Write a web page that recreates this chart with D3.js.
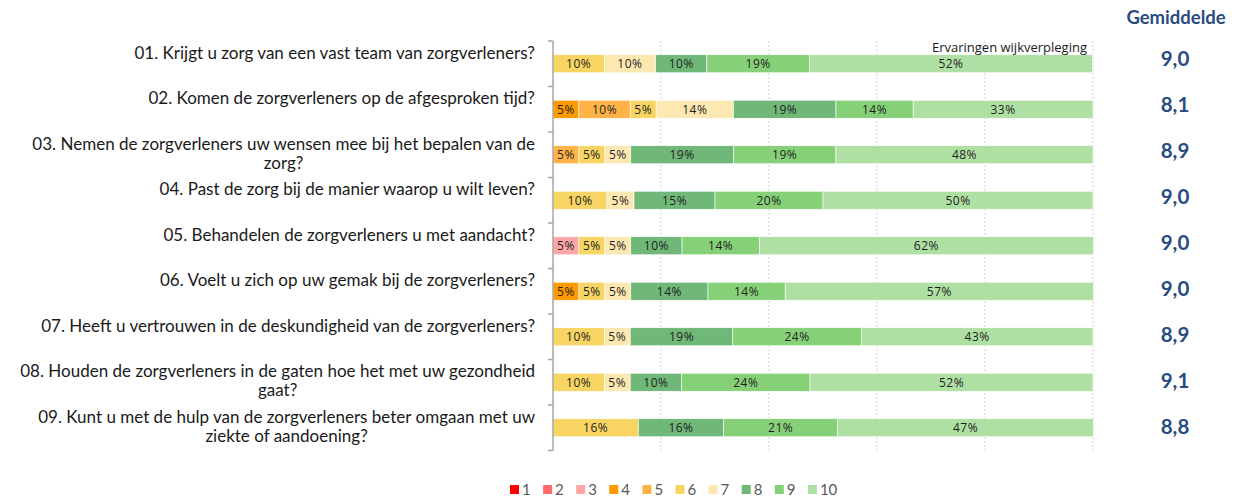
<!DOCTYPE html>
<html>
<head>
<meta charset="utf-8">
<script src="https://cdn.jsdelivr.net/npm/d3@7"></script>
<style>
  html, body { margin: 0; padding: 0; background: #fff; }
  svg { display: block; }
</style>
</head>
<body>
<svg id="chart" width="1238" height="499"></svg>
<script>
// ---------------- data ----------------
const questions = [
  "01. Krijgt u zorg van een vast team van zorgverleners?",
  "02. Komen de zorgverleners op de afgesproken tijd?",
  "03. Nemen de zorgverleners uw wensen mee bij het bepalen van de\nzorg?",
  "04. Past de zorg bij de manier waarop u wilt leven?",
  "05. Behandelen de zorgverleners u met aandacht?",
  "06. Voelt u zich op uw gemak bij de zorgverleners?",
  "07. Heeft u vertrouwen in de deskundigheid van de zorgverleners?",
  "08. Houden de zorgverleners in de gaten hoe het met uw gezondheid\ngaat?",
  "09. Kunt u met de hulp van de zorgverleners beter omgaan met uw\nziekte of aandoening?"
];
const scores = ["1", "2", "3", "4", "5", "6", "7", "8", "9", "10"];
const pct1  = [0, 0, 0, 0, 0, 0, 0, 0, 0];
const pct2  = [0, 0, 0, 0, 0, 0, 0, 0, 0];
const pct3  = [0, 0, 0, 0, 4.8, 0, 0, 0, 0];
const pct4  = [0, 4.8, 0, 0, 0, 4.8, 0, 0, 0];
const pct5  = [0, 9.5, 4.8, 0, 0, 0, 0, 0, 0];
const pct6  = [9.5, 4.8, 4.8, 10, 4.8, 4.8, 9.5, 9.5, 15.8];
const pct7  = [9.5, 14.3, 4.8, 5, 4.8, 4.8, 4.8, 4.8, 0];
const pct8  = [9.5, 19.0, 19.0, 15, 9.5, 14.3, 19.0, 9.5, 15.8];
const pct9  = [19.0, 14.3, 19.0, 20, 14.3, 14.3, 23.8, 23.8, 21.1];
const pct10 = [52.4, 33.3, 47.6, 50, 61.9, 57.1, 42.9, 52.4, 47.4];
const averages = ["9,0", "8,1", "8,9", "9,0", "9,0", "9,0", "8,9", "9,1", "8,8"];
const averageTitle = "Gemiddelde";
const chartTitle = "Ervaringen wijkverpleging";
const xTicks = [0, 20, 40, 60, 80, 100];

// ---------------- styles ----------------
const colors = ["#FF0000", "#FF6B6B", "#FFA7A7", "#FF9A00", "#FFB347", "#F8D562",
                "#FDE8B2", "#70B878", "#86D178", "#AFE0A3"];
const labelFont = "Lato, 'Open Sans', sans-serif";
const pctFont = "'Open Sans', sans-serif";
const numFont = "Lato, 'Open Sans', sans-serif";
const navy = "#284C80";

const seriesArrays = [pct1, pct2, pct3, pct4, pct5, pct6, pct7, pct8, pct9, pct10];
const table = questions.map((q, i) => {
  const row = { q };
  scores.forEach((s, j) => { row[s] = seriesArrays[j][i]; });
  return row;
});

const svg = d3.select("#chart");
const x = d3.scaleLinear().domain([0, 100]).range([553, 1093]);
const y = d3.scaleBand().domain(questions).range([41, 450.5])
  .paddingInner(0.604).paddingOuter(0.302);
const color = d3.scaleOrdinal().domain(scores).range(colors);
const avgY = d3.scalePoint().domain(questions).range([59, 427]);

// grid
const grid = svg.append("g");
grid.selectAll("line").data(xTicks.slice(1)).join("line")
  .attr("x1", d => x(d)).attr("x2", d => x(d))
  .attr("y1", 41).attr("y2", 450.5)
  .attr("stroke", "#D0D0D0").attr("stroke-width", 1)
  .attr("stroke-dasharray", "2,2");

// bars
const stack = d3.stack().keys(scores)(table);
const layers = svg.append("g").selectAll("g").data(stack).join("g")
  .attr("fill", d => color(d.key));
layers.selectAll("rect").data(d => d.filter(p => p[1] - p[0] > 0)).join("rect")
  .attr("x", d => x(d[0]))
  .attr("y", d => y(d.data.q))
  .attr("width", d => x(d[1]) - x(d[0]))
  .attr("height", y.bandwidth())
  .attr("stroke", "#ffffff").attr("stroke-width", 0.6);

layers.selectAll("text").data(d => d.filter(p => p[1] - p[0] > 0)).join("text")
  .attr("x", d => (x(d[0]) + x(d[1])) / 2)
  .attr("y", d => y(d.data.q) + y.bandwidth() / 2 + 4.5)
  .attr("text-anchor", "middle")
  .attr("font-family", pctFont)
  .attr("font-size", 12)
  .attr("letter-spacing", 0.5)
  .attr("fill", "#1f1f1f")
  .text(d => Math.round(d[1] - d[0]) + "%");

// y axis (left line with ticks at band boundaries)
const axisG = svg.append("g").attr("transform", "translate(553,0)");
axisG.call(d3.axisLeft(y).tickSize(0).tickFormat(""));
axisG.select(".domain").remove();
axisG.append("line").attr("x1", 0).attr("x2", 0).attr("y1", 41).attr("y2", 450.5)
  .attr("stroke", "#A6A6A6").attr("stroke-width", 1.5);
const bounds = questions.map(q => y(q) - (y.step() - y.bandwidth()) / 2);
bounds.push(450.5);
axisG.selectAll(".btick").data(bounds).join("line").attr("class", "btick")
  .attr("x1", -5).attr("x2", 0).attr("y1", d => d).attr("y2", d => d)
  .attr("stroke", "#A6A6A6").attr("stroke-width", 1.5);

// question labels
const labels = svg.append("g").selectAll("text").data(questions).join("text")
  .attr("font-family", labelFont)
  .attr("font-size", 14)
  .attr("fill", "#1a1a1a");
labels.each(function(q) {
  const t = d3.select(this);
  q.split("\n").forEach(ln => t.append("tspan").text(ln));
});
// fit font size so the longest line spans like the reference (~517px)
let longest = 0;
labels.selectAll("tspan").each(function() {
  longest = Math.max(longest, this.getComputedTextLength());
});
const fs = 14 * 515 / longest;
labels.attr("font-size", fs);
labels.each(function(q) {
  const t = d3.select(this);
  const spans = t.selectAll("tspan");
  let maxW = 0;
  spans.each(function() { maxW = Math.max(maxW, this.getComputedTextLength()); });
  const cx = 535 - maxW / 2;
  const top = y(q) + y.bandwidth() / 2 - 11 + fs * 0.36;
  spans.attr("x", cx).attr("text-anchor", "middle")
    .attr("y", (d, k) => top + k * 19);
});

// chart title
svg.append("text")
  .attr("x", 1087).attr("y", 52)
  .attr("text-anchor", "end")
  .attr("font-family", pctFont)
  .attr("font-size", 13)
  .attr("fill", "#1a1a1a")
  .text(chartTitle);

// averages column
svg.append("text")
  .attr("x", 1176).attr("y", 24)
  .attr("text-anchor", "middle")
  .attr("font-family", numFont)
  .attr("font-weight", "bold")
  .attr("font-size", 18.5)
  .attr("fill", navy)
  .text(averageTitle);
svg.append("g").selectAll("text").data(questions).join("text")
  .attr("x", 1175)
  .attr("y", d => avgY(d) + 7)
  .attr("text-anchor", "middle")
  .attr("font-family", numFont)
  .attr("font-weight", "bold")
  .attr("font-size", 20.5)
  .attr("fill", navy)
  .text((d, i) => averages[i]);

// legend
const legend = svg.append("g").attr("transform", "translate(510,485)");
const items = legend.selectAll("g").data(scores).join("g")
  .attr("transform", (d, i) => `translate(${i * 33.1},0)`);
items.append("rect").attr("width", 9).attr("height", 9).attr("fill", d => color(d));
items.append("text").attr("x", 12).attr("y", 10)
  .attr("font-family", numFont)
  .attr("font-size", 15)
  .attr("fill", "#595959")
  .text(d => d);
</script>
</body>
</html>
